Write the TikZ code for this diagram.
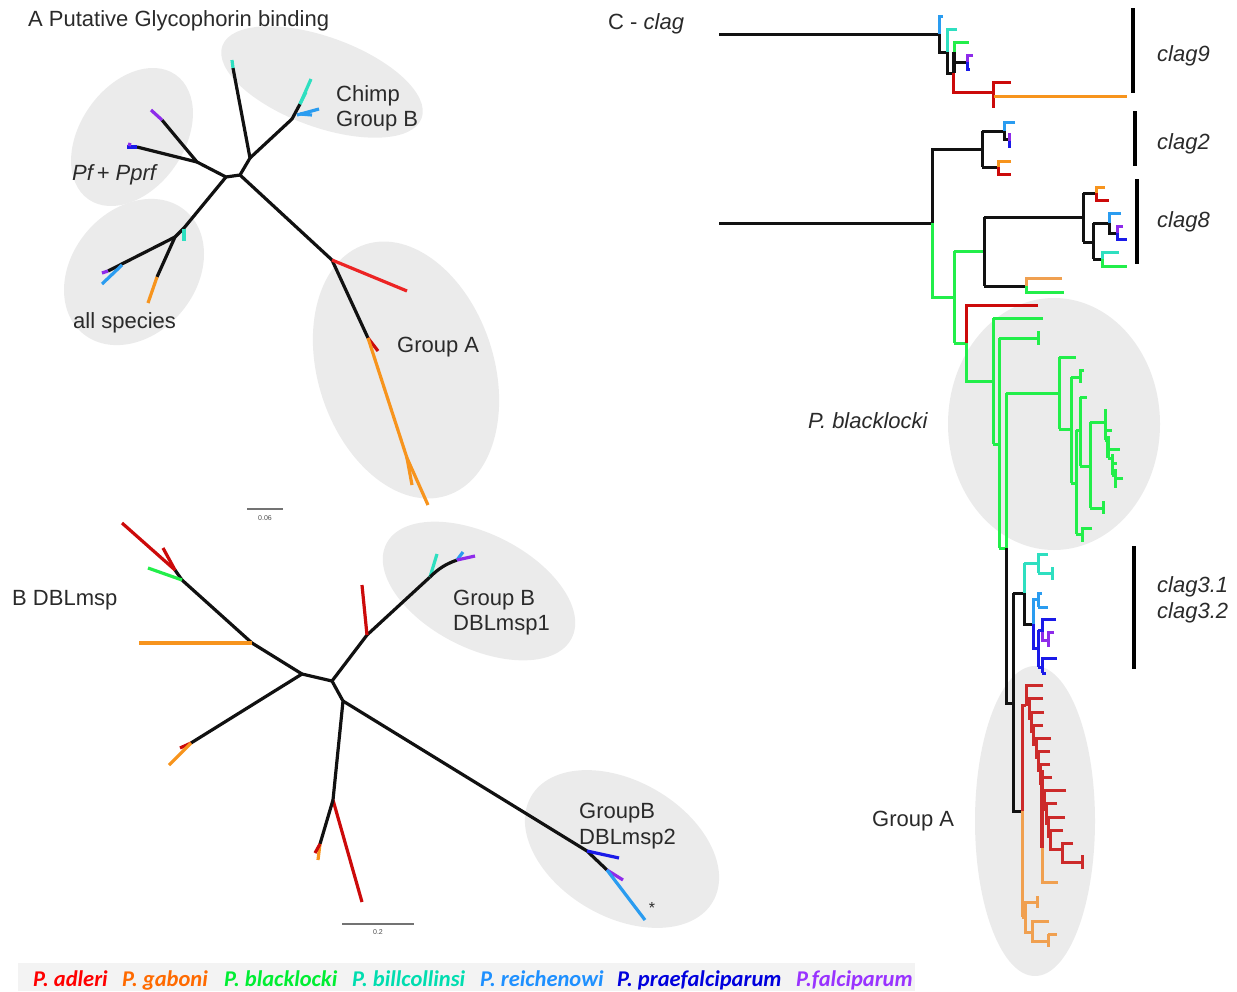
\documentclass[tikz,border=0pt]{standalone}
\usepackage{fontspec}
\setmainfont{Liberation Sans}
\newfontfamily\legendfont{Carlito}
\definecolor{halo}{HTML}{EBEBEB}
\definecolor{legbg}{HTML}{F3F3F3}
\definecolor{ink}{HTML}{2A2A2A}
\definecolor{tblk}{HTML}{111111}
\definecolor{tred}{HTML}{EC2424}
\definecolor{tdred}{HTML}{CC0A0A}
\definecolor{tred2}{HTML}{CC2A2A}
\definecolor{torg}{HTML}{F7941D}
\definecolor{torg2}{HTML}{F0A050}
\definecolor{tgrn}{HTML}{22EE4A}
\definecolor{tcy}{HTML}{2EDFC0}
\definecolor{tlb}{HTML}{2A9CF0}
\definecolor{tblu}{HTML}{1A1AE8}
\definecolor{tpur}{HTML}{8E2BEA}
\definecolor{lred}{HTML}{FF0000}
\definecolor{lorg}{HTML}{FF6A00}
\definecolor{lgrn}{HTML}{00EE33}
\definecolor{lcy}{HTML}{00DDB0}
\definecolor{llb}{HTML}{1E90FF}
\definecolor{lblu}{HTML}{0000DD}
\definecolor{lpur}{HTML}{9933FF}
\begin{document}
\begin{tikzpicture}[x=1pt,y=-1pt,
  br/.style={line width=3.2pt,line join=round},
  cl/.style={line width=3pt},
  lab/.style={inner sep=0pt,anchor=base west,text=ink,font=\fontsize{22}{25}\selectfont},
  ilab/.style={lab,font=\fontsize{22}{25}\selectfont\itshape},
  leg/.style={inner sep=0pt,anchor=base west,font=\fontsize{22.5}{24}\legendfont\bfseries\itshape},
  sbar/.style={line width=1.2pt,draw=black!55},
  slab/.style={inner sep=0pt,text=black!70,font=\fontsize{7}{8}\selectfont},
  cbar/.style={line width=3.4pt,draw=black}]
\useasboundingbox (0,0) rectangle (1237,991);

% ---------- shaded clade outlines ----------
\fill[halo,rotate around={-20:(322,82)}] (322,82) ellipse [x radius=106,y radius=45];
\fill[halo,rotate around={55:(132,137)}] (132,137) ellipse [x radius=76,y radius=52];
\fill[halo,rotate around={50:(134,272)}] (134,272) ellipse [x radius=80,y radius=62];
\fill[halo,rotate around={18:(406,370)}] (406,370) ellipse [x radius=88,y radius=132];
\fill[halo,rotate around={-27:(479,591)}] (479,591) ellipse [x radius=104,y radius=57];
\fill[halo,rotate around={-30:(622,849)}] (622,849) ellipse [x radius=105,y radius=68];
\fill[halo] (1054,424) ellipse [x radius=106,y radius=126];
\fill[halo] (1035,821) ellipse [x radius=60,y radius=155];

% ---------- A: glycophorin binding tree ----------
\coordinate (a1) at (226,177);
\coordinate (a2) at (240,175);
\coordinate (a3) at (250,158);
\coordinate (a4) at (292,119);
\coordinate (a5) at (300,104);
\coordinate (a6) at (332,260);
\coordinate (a7) at (368,338);
\coordinate (a8) at (407,458);
\coordinate (a9) at (197,162);
\coordinate (a10) at (175,237);
\draw[br,tblk] (a1) -- (a2) -- (a3) -- (233,68);
\draw[br,tcy] (233,68) -- (232,60);
\draw[br,tblk] (a3) -- (a4) -- (a5);
\draw[br,tcy] (a5) -- (311,79);
\draw[br,tcy] (a5) -- (306,92);
\draw[br,tlb] (297,115) -- (319,109);
\draw[br,tlb] (300,114) -- (312,115);
\draw[br,tblk] (a2) -- (a6) -- (a7);
\draw[br,tred] (a6) -- (407,291);
\draw[br,tdred] (a7) -- (378,351);
\draw[br,torg] (a7) -- (a8) -- (428,505);
\draw[br,torg] (a8) -- (412,485);
\draw[br,tblk] (a1) -- (a9) -- (162,120);
\draw[br,tpur] (162,120) -- (151,110);
\draw[br,tblk] (a9) -- (137,147);
\draw[br,tblu] (137,147) -- (127,147);
\draw[br,tpur] (131,145) -- (128,144);
\draw[br,tblk] (a1) -- (184,228) -- (a10);
\draw[br,tcy] (184,229) -- (184,241);
\draw[br,tblk] (a10) -- (108,271);
\draw[br,tpur] (108,271) -- (102,273);
\draw[br,tlb] (122,265) -- (102,284);
\draw[br,tblk] (a10) -- (157,277);
\draw[br,torg] (157,277) -- (148,303);
\draw[sbar] (247,509) -- (283,509);
\node[slab] (sa) at (265,518) {0.06};

\node[lab] (tA) at (28,26) {A Putative Glycophorin binding};
\node[lab] (chimp1) at (336,101) {Chimp};
\node[lab] (chimp2) at (336,126) {Group B};
\node[ilab] (pf) at (72,180) {Pf\,+ Pprf};
\node[lab] (alls) at (73,328) {all species};
\node[lab] (grA) at (397,352) {Group A};

% ---------- B: DBLmsp tree ----------
\coordinate (b1) at (302,674);
\coordinate (b2) at (332,681);
\coordinate (b3) at (252,643);
\coordinate (b4) at (182,580);
\coordinate (b5) at (175,570);
\coordinate (b6) at (191,743);
\coordinate (b7) at (367,635);
\coordinate (b8) at (430,577);
\coordinate (b9) at (343,701);
\coordinate (b10) at (333,800);
\coordinate (b11) at (587,851);
\coordinate (b12) at (607,870);
\draw[br,tblk] (b1) -- (b2);
\draw[br,tblk] (b1) -- (b3) -- (b4) -- (b5);
\draw[br,torg] (b3) -- (139,643);
\draw[br,tgrn] (b4) -- (148,568);
\draw[br,tdred] (b5) -- (122,523);
\draw[br,tdred] (b5) -- (163,548);
\draw[br,tblk] (b1) -- (b6);
\draw[br,tdred] (b6) -- (180,748);
\draw[br,torg] (b6) -- (169,765);
\draw[br,tblk] (b2) -- (b7) -- (b8);
\draw[br,tdred] (b7) -- (362,585);
\draw[br,tcy] (b8) -- (437,554);
\draw[br,tblk] (b8) to[bend left=12] (457,560);
\draw[br,tlb] (457,560) -- (463,552);
\draw[br,tpur] (457,560) -- (475,556);
\draw[br,tblk] (b2) -- (b9) -- (b10);
\draw[br,tdred] (b10) -- (362,902);
\draw[br,tblk] (b10) -- (320,844);
\draw[br,torg] (320,844) -- (318,860);
\draw[br,tdred] (320,844) -- (315,853);
\draw[br,tblk] (b9) -- (b11) -- (b12);
\draw[br,tblu] (b11) -- (619,858);
\draw[br,tpur] (b12) -- (623,880);
\draw[br,tlb] (b12) -- (645,920);
\node[inner sep=0pt,text=ink,font=\fontsize{16}{16}\selectfont] (star) at (652,908) {*};
\draw[sbar] (342,924) -- (414,924);
\node[slab] (sb) at (378,932) {0.2};

\node[lab] (tB) at (12,605) {B DBLmsp};
\node[lab] (g1a) at (453,605) {Group B};
\node[lab] (g1b) at (453,630) {DBLmsp1};
\node[lab] (g2a) at (579,818) {GroupB};
\node[lab] (g2b) at (579,844) {DBLmsp2};

% ---------- C: clag tree ----------
% clag9
\draw[cl,tblk] (719,34) -- (939,34);
\draw[cl,tlb] (943,16) -| (939,34);
\draw[cl,tblk] (939,34) |- (947,52);
\draw[cl,tcy] (957,29) -| (947,52);
\draw[cl,tblk] (947,52) |- (953,73);
\draw[cl,tgrn] (969,42) -| (954,52);
\draw[cl,tblk,line width=3.8pt] (954,52) -- (954,73);
\draw[cl,tblk] (954,62) -- (967,62);
\draw[cl,tpur] (973,55) -| (967,62);
\draw[cl,tblu] (967,62) |- (970,69);
\draw[cl,tdred] (953,73) |- (993,92);
\draw[cl,tdred] (1011,82) -| (993,108);
\draw[cl,torg] (994,96) -- (1127,96);
% clag2
\draw[cl,tblk] (719,223) -- (932,223);
\draw[cl,tblk] (932,223) |- (982,149);
\draw[cl,tblk] (982,131) -- (982,167);
\draw[cl,tblk] (982,131) -- (1004,131);
\draw[cl,tlb] (1015,122) -| (1004,131);
\draw[cl,tblk] (1004,131) |- (1009,139);
\draw[cl,tpur] (1009,133) -- (1009,141);
\draw[cl,tblu] (1009,141) -- (1009,148);
\draw[cl,tblk] (982,167) -- (998,167);
\draw[cl,torg] (1011,161) -| (998,167);
\draw[cl,tdred] (998,167) |- (1011,174);
% clag8
\draw[cl,tgrn] (932,223) |- (954,297);
\draw[cl,tgrn] (954,251) -- (954,343);
\draw[cl,tgrn] (954,251) -- (984,251);
\draw[cl,tblk] (984,217) -- (984,286);
\draw[cl,tblk] (984,217) -- (1083,217);
\draw[cl,tblk] (1083,193) -- (1083,242);
\draw[cl,tblk] (1083,193) -- (1096,193);
\draw[cl,torg] (1105,187) -| (1096,193);
\draw[cl,tdred] (1096,193) |- (1109,200);
\draw[cl,tblk] (1083,242) -- (1093,242);
\draw[cl,tblk] (1093,223) -- (1093,259);
\draw[cl,tblk] (1093,223) -- (1109,223);
\draw[cl,tlb] (1121,213) -| (1109,223);
\draw[cl,tblk] (1109,223) |- (1117,233);
\draw[cl,tpur] (1123,226) -| (1117,233);
\draw[cl,tblu] (1117,233) |- (1127,239);
\draw[cl,tblk] (1093,259) -- (1102,259);
\draw[cl,tcy] (1119,252) -| (1102,259);
\draw[cl,tgrn] (1102,259) |- (1127,266);
\draw[cl,tblk] (984,286) -- (1026,286);
\draw[cl,torg2] (1062,278) -| (1026,286);
\draw[cl,tgrn] (1026,286) |- (1064,292);
% P. blacklocki and its relatives
\draw[cl,tgrn] (954,343) -- (966,343);
\draw[cl,tdred] (1038,305) -| (966,343);
\draw[cl,tgrn] (966,343) |- (993,381);
\draw[cl,tgrn] (993,318) -- (993,444);
\draw[cl,tgrn] (993,318) -- (1043,318);
\draw[cl,tgrn] (993,444) -- (999,444);
\draw[cl,tgrn] (999,338) -- (999,548);
\draw[cl,tgrn] (999,338) -- (1038,338);
\draw[cl,tgrn] (1038,331) -- (1038,345);
\draw[cl,tgrn] (999,548) -- (1006,548);
\draw[cl,tgrn] (1006,393) -- (1006,548);
\draw[cl,tgrn] (1006,393) -- (1059,393);
\draw[cl,tgrn] (1059,357) -- (1059,429);
\draw[cl,tgrn] (1059,357) -- (1076,357);
\draw[cl,tgrn] (1059,429) -- (1071,429);
\draw[cl,tgrn] (1071,377) -- (1071,483);
\draw[cl,tgrn] (1071,377) -- (1080,377);
\draw[cl,tgrn] (1084,370) -| (1080,383);
\draw[cl,tgrn] (1071,483) -- (1076,483);
\draw[cl,tgrn] (1076,430) -- (1076,534);
\draw[cl,tgrn] (1076,430) -- (1080,430);
\draw[cl,tgrn] (1080,397) -- (1080,466);
\draw[cl,tgrn] (1080,397) -- (1087,397);
\draw[cl,tgrn] (1080,466) -- (1090,466);
\draw[cl,tgrn] (1090,422) -- (1090,508);
\draw[cl,tgrn] (1090,422) -- (1105,422);
\draw[cl,tgrn] (1090,508) -- (1103,508);
\draw[cl,tgrn] (1103,501) -- (1103,514);
\draw[cl,tgrn] (1105,409) -- (1105,440);
\draw[cl,tgrn] (1105,430) -- (1112,430);
\draw[cl,tgrn] (1105,440) -- (1108,440);
\draw[cl,tgrn,line width=3.8pt] (1108,436) -- (1108,458);
\draw[cl,tgrn] (1108,449) -- (1120,449);
\draw[cl,tgrn] (1108,458) -- (1112,458);
\draw[cl,tgrn] (1112,454) -- (1112,475);
\draw[cl,tgrn] (1112,463) -- (1117,463);
\draw[cl,tgrn] (1112,475) -- (1115,475);
\draw[cl,tgrn] (1115,469) -- (1115,488);
\draw[cl,tgrn] (1115,478) -- (1123,478);
\draw[cl,tgrn] (1076,534) -- (1082,534);
\draw[cl,tgrn] (1092,528) -| (1082,542);
% clag3.1 / clag3.2
\draw[cl,tblk] (1006,548) |- (1013,703);
\draw[cl,tblk] (1013,593) |- (1022,811);
\draw[cl,tblk] (1013,593) -- (1024,593);
\draw[cl,tcy] (1024,563) -- (1024,593);
\draw[cl,tblk] (1024,593) |- (1033,624);
\draw[cl,tcy] (1024,563) -- (1038,563);
\draw[cl,tcy] (1048,554) -| (1038,573);
\draw[cl,tcy] (1038,573) -- (1052,573);
\draw[cl,tcy] (1052,567) -- (1052,580);
\draw[cl,tlb] (1033,624) |- (1038,599);
\draw[cl,tlb] (1042,593) -| (1038,607);
\draw[cl,tlb] (1038,607) -- (1048,607);
\draw[cl,tblu] (1033,624) |- (1038,648);
\draw[cl,tblu] (1038,630) -- (1038,667);
\draw[cl,tblu] (1038,630) -- (1042,630);
\draw[cl,tblu] (1056,619) -| (1042,632);
\draw[cl,tpur] (1042,632) |- (1048,640);
\draw[cl,tpur] (1054,632) -| (1048,647);
\draw[cl,tblu] (1038,667) -- (1042,667);
\draw[cl,tblu] (1057,658) -| (1042,673);
\draw[cl,tblu] (1042,673) -- (1046,673);
% Group A
\draw[cl,tred2] (1022,811) |- (1026,705);
\draw[cl,torg2] (1022,811) -- (1022,917);
\foreach \x/\y/\t/\j/\n in {1026/685/1043/704/1029, 1029/698/1043/718/1031,
    1031/712/1044/731/1033, 1033/725/1043/744/1036, 1036/738/1051/757/1038,
    1038/751/1050/770/1040, 1040/764/1050/783/1042, 1042/777/1052/796/1044,
    1044/790/1066/809/1046, 1046/803/1057/823/1048, 1048/817/1065/836/1050,
    1050/830/1063/849/1062}
  \draw[cl,tred2] (\t,\y) -| (\x,\j) -- (\n,\j);
\draw[cl,tred2,line width=4.5pt] (1042,770) -- (1042,848);
\draw[cl,tred2] (1073,843) -| (1062,862) -- (1082,862);
\draw[cl,tred2] (1082,855) -- (1082,869);
\draw[cl,torg2] (1042,848) |- (1058,882);
\draw[cl,torg2] (1022,917) -- (1025,917);
\draw[cl,torg2] (1037,902) -| (1025,932) -- (1032,932);
\draw[cl,torg2] (1037,896) -- (1037,908);
\draw[cl,torg2] (1049,921) -| (1032,941) -- (1048,941);
\draw[cl,torg2] (1048,934) -- (1048,947);
\draw[cl,torg2] (1048,934) -- (1057,934);
% gene bars
\draw[cbar] (1133,8) -- (1133,93);
\draw[cbar] (1135,111) -- (1135,166);
\draw[cbar] (1137,179) -- (1137,264);
\draw[cbar] (1134,546) -- (1134,669);

\node[lab] (tC) at (608,29) {C - \textit{clag}};
\node[ilab] (c9) at (1157,61) {clag9};
\node[ilab] (c2) at (1157,149) {clag2};
\node[ilab] (c8) at (1157,227) {clag8};
\node[ilab] (c31) at (1157,592) {clag3.1};
\node[ilab] (c32) at (1157,618) {clag3.2};
\node[ilab] (pb) at (808,428) {P. blacklocki};
\node[lab] (gAc) at (872,826) {Group A};

% ---------- species key ----------
\fill[legbg] (18,963) rectangle (915,991);
\node[leg,text=lred] (k1) at (33,986) {P. adleri};
\node[leg,text=lorg] (k2) at (122,986) {P. gaboni};
\node[leg,text=lgrn] (k3) at (224,986) {P. blacklocki};
\node[leg,text=lcy] (k4) at (352,986) {P. billcollinsi};
\node[leg,text=llb] (k5) at (480,986) {P. reichenowi};
\node[leg,text=lblu] (k6) at (617,986) {P. praefalciparum};
\node[leg,text=lpur] (k7) at (796,986) {P.falciparum};
\end{tikzpicture}
\end{document}
